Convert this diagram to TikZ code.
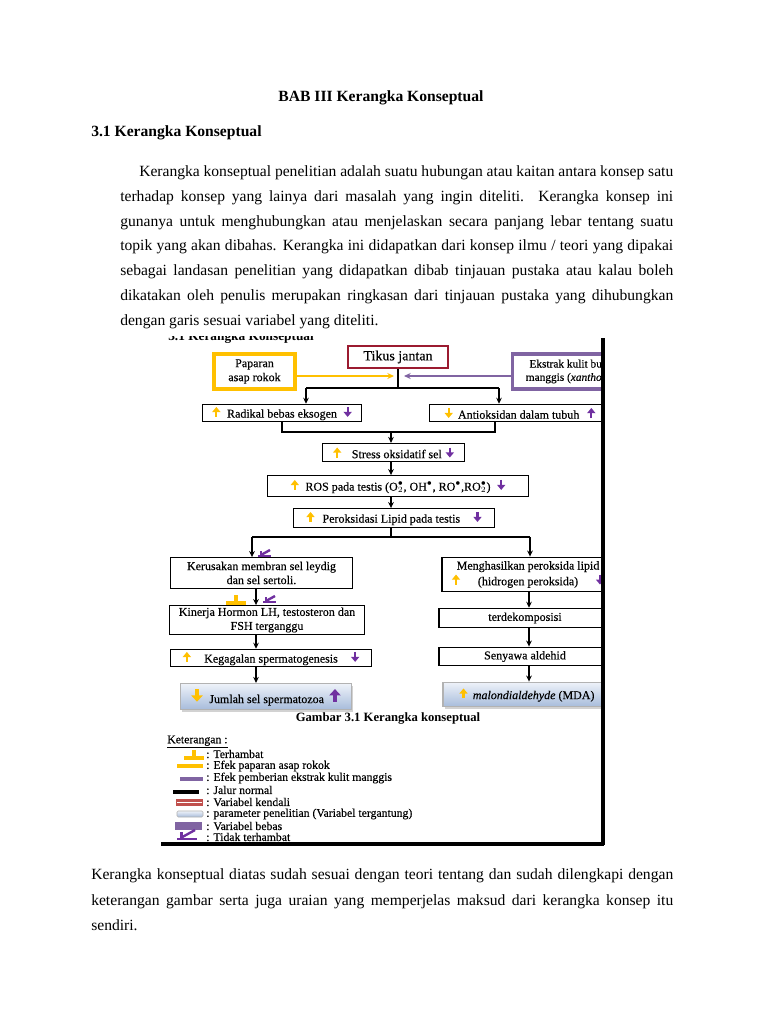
\documentclass[tikz,border=0pt]{standalone}
\usepackage{fontspec}
\setmainfont{Liberation Serif}
\newfontfamily\fontgbr[FakeBold=0.3]{Liberation Serif}
\usetikzlibrary{arrows.meta, positioning, shadows}

\definecolor{kuning}{HTML}{FFC000}
\definecolor{ungu}{HTML}{7030A0}
\definecolor{unguMuda}{HTML}{8064A2}
\definecolor{merah}{HTML}{9B1B30}
\definecolor{merahLeg}{HTML}{C0504D}
\definecolor{biruAtas}{HTML}{EEF2F9}
\definecolor{biruBawah}{HTML}{A7BCDB}

% small thick arrows inside the boxes
\newcommand{\panahNaik}[1]{\tikz[baseline=-0.5pt]\draw[#1,line width=1.7pt,-{Triangle[width=6pt,length=3.8pt]}] (0pt,0pt) -- (0pt,7.5pt);}
\newcommand{\panahTurun}[1]{\tikz[baseline=-0.5pt]\draw[#1,line width=1.7pt,-{Triangle[width=6pt,length=3.8pt]}] (0pt,7.5pt) -- (0pt,0pt);}
\newcommand{\panahNaikBesar}[1]{\tikz[baseline=-1pt]\draw[#1,line width=2.5pt,-{Triangle[width=8.5pt,length=4.8pt]}] (0pt,0pt) -- (0pt,9.5pt);}
\newcommand{\panahTurunBesar}[1]{\tikz[baseline=-1pt]\draw[#1,line width=2.5pt,-{Triangle[width=8.5pt,length=4.8pt]}] (0pt,9.5pt) -- (0pt,0pt);}

\tikzset{
  terhambat/.pic={
    \draw[kuning, line width=2.8pt] (-10,0) -- (10,0);
    \draw[kuning, line width=2.6pt] (0,0) -- (0,-8);
  },
  tidakhambat/.pic={
    \draw[ungu, line width=2pt] (0,0) -- (13,0);
    \draw[ungu, line width=1.8pt] (3,0) -- (3,-5);
    \draw[ungu, line width=1.8pt] (3,-1) -- (12,-6);
  }
}

\begin{document}
\begin{tikzpicture}[x=0.75pt, y=-0.75pt,
    kotak/.style={draw=black, line width=0.9pt, fill=white, align=center, inner sep=1pt, font=\fontgbr\fontsize{9}{10.5}\selectfont},
    kotakhasil/.style={kotak, draw=black!30, top color=biruAtas, bottom color=biruBawah, drop shadow={shadow xshift=1.2pt, shadow yshift=-1.5pt, opacity=0.35}},
    garis/.style={line width=0.9pt},
    panah/.style={garis, -{Stealth[length=4.5pt, width=4.2pt]}},
    baris/.style={inner sep=0pt, anchor=base west, font=\fontsize{11.7}{14}\selectfont},
    ket/.style={inner sep=0pt, anchor=west, font=\fontgbr\fontsize{8.8}{9}\selectfont}]

  \fill[white] (0,0) rectangle (768,1024);
  \useasboundingbox (0,0) rectangle (768,1024);

  % page text
  \node[anchor=base, inner sep=0pt, font=\bfseries\fontsize{11.7}{14}\selectfont] (judul) at (381,101) {BAB III Kerangka Konseptual};
  \node[baris, font=\bfseries\fontsize{11.7}{14}\selectfont] (subjudul) at (91,136) {3.1 Kerangka Konseptual};

  \node[baris] (p1) at (139,176) {\makebox[400.5pt][s]{Kerangka konseptual penelitian adalah suatu hubungan atau kaitan antara konsep satu}};
  \node[baris] (p2) at (120,201) {\makebox[414.75pt][s]{terhadap konsep yang lainya dari masalah yang ingin diteliti. Kerangka konsep ini}};
  \node[baris] (p3) at (120,226) {\makebox[414.75pt][s]{gunanya untuk menghubungkan atau menjelaskan secara panjang lebar tentang suatu}};
  \node[baris] (p4) at (120,250) {\makebox[414.75pt][s]{topik yang akan dibahas. Kerangka ini didapatkan dari konsep ilmu / teori yang dipakai}};
  \node[baris] (p5) at (120,275) {\makebox[414.75pt][s]{sebagai landasan penelitian yang didapatkan dibab tinjauan pustaka atau kalau boleh}};
  \node[baris] (p6) at (120,300) {\makebox[414.75pt][s]{dikatakan oleh penulis merupakan ringkasan dari tinjauan pustaka yang dihubungkan}};
  \node[baris] (p7) at (120,325) {dengan garis sesuai variabel yang diteliti.};

  \node[baris] (q1) at (91,879) {\makebox[436.5pt][s]{Kerangka konseptual diatas sudah sesuai dengan teori tentang dan sudah dilengkapi dengan}};
  \node[baris] (q2) at (91,905) {\makebox[436.5pt][s]{keterangan gambar serta juga uraian yang memperjelas maksud dari kerangka konsep itu}};
  \node[baris] (q3) at (91,930) {sendiri.};

  % the figure
  \begin{scope}
    \clip (160,336) rectangle (602,847);
    \node[anchor=base west, inner sep=0pt, font=\bfseries\fontsize{10}{12}\selectfont] (judulatas) at (168,340) {3.1 Kerangka Konseptual};

    \node[kotak, draw=merah, line width=2.2pt, minimum width=75pt, minimum height=16.5pt, font=\fontgbr\fontsize{10.5}{12}\selectfont] (tikus) at (398,357) {Tikus jantan};
    \node[kotak, draw=kuning, line width=2.6pt, minimum width=61pt, minimum height=26.5pt] (paparan) at (254.5,371.5) {Paparan\\asap rokok};
    \node[kotak, draw=unguMuda, line width=2.6pt, minimum width=88pt, minimum height=26.5pt, font=\fontgbr\fontsize{8.5}{10}\selectfont] (ekstrak) at (571,371.5) {Ekstrak kulit buah\\manggis (\textit{xanthone})};

    \coordinate (ujungK) at (394,376);
    \coordinate (ujungU) at (404,376);
    \draw[kuning, line width=1.4pt, -{Stealth[length=5pt, width=4.5pt]}] (paparan.east |- ujungK) -- (ujungK);
    \draw[unguMuda, line width=1.4pt, -{Stealth[length=5pt, width=4.5pt]}] (ekstrak.west |- ujungU) -- (ujungU);

    \node[kotak, minimum width=119pt, minimum height=13pt] (radikal) at (282,413) {\panahNaik{kuning}\hspace{5pt}Radikal bebas eksogen\hspace{5pt}\panahTurun{ungu}};
    \node[kotak, minimum width=136pt, minimum height=13pt] (antiok) at (520,413) {\panahTurun{kuning}\hspace{4pt}Antioksidan dalam tubuh\hspace{6pt}\panahNaik{ungu}};

    \coordinate (cab1) at (398,388);
    \coordinate (cab1k) at (306,388);
    \coordinate (cab1n) at (499,388);
    \draw[garis] (tikus) -- (cab1);
    \draw[garis] (cab1k) -- (cab1n);
    \draw[panah] (cab1k) -- (cab1k |- radikal.north);
    \draw[panah] (cab1n) -- (cab1n |- antiok.north);

    \node[kotak, minimum width=106pt, minimum height=13.5pt] (stress) at (393.5,452.5) {\panahNaik{kuning}\hspace{8pt}Stress oksidatif sel\hspace{3pt}\panahTurun{ungu}};
    \node[kotak, minimum width=195.5pt, minimum height=15.5pt] (ros) at (398,486) {\panahNaik{kuning}\hspace{5pt}ROS pada testis (O$_2^{\bullet}$, OH$^{\bullet}$, RO$^{\bullet}$,RO$_2^{\bullet}$)\hspace{5pt}\panahTurun{ungu}};
    \node[kotak, minimum width=151pt, minimum height=14pt] (perok) at (394,518) {\panahNaik{kuning}\hspace{6pt}Peroksidasi Lipid pada testis\hspace{10pt}\panahTurun{ungu}};

    \coordinate (gab1) at (391,432);
    \coordinate (gab1n) at (495,432);
    \draw[garis] (gab1n |- antiok.south) -- (gab1n) -- (radikal.south |- gab1n) -- (radikal.south);
    \draw[panah] (gab1) -- (gab1 |- stress.north);
    \draw[panah] (gab1 |- stress.south) -- (gab1 |- ros.north);
    \draw[panah] (gab1 |- ros.south) -- (gab1 |- perok.north);

    \node[kotak, minimum width=136.5pt, minimum height=23pt] (kerusakan) at (261.5,573) {Kerusakan membran sel leydig\\dan sel sertoli.};
    \node[kotak, minimum width=146pt, minimum height=21.5pt] (kinerja) at (267,620) {Kinerja Hormon LH, testosteron dan\\FSH terganggu};
    \node[kotak, minimum width=151pt, minimum height=13pt] (kegagalan) at (271,658) {\panahNaik{kuning}\hspace{10pt}Kegagalan spermatogenesis\hspace{10pt}\panahTurun{ungu}};
    \node[kotakhasil, minimum width=128pt, minimum height=19.5pt] (jumlah) at (266,696.5) {\panahTurunBesar{kuning}\hspace{5pt}Jumlah sel spermatozoa\hspace{4pt}\panahNaikBesar{ungu}};

    \node[kotak, minimum width=129pt, minimum height=26pt] (mengh) at (528,574.5) {Menghasilkan peroksida lipid\\\makebox[114pt]{\panahNaik{kuning}\hfill(hidrogen peroksida)\hfill\panahTurun{ungu}}};
    \node[kotak, minimum width=129pt, minimum height=14.5pt] (terdek) at (525,618) {terdekomposisi};
    \node[kotak, minimum width=129pt, minimum height=14pt] (senyawa) at (525,656.5) {Senyawa aldehid};
    \node[kotakhasil, minimum width=126pt, minimum height=18.5pt] (mda) at (527,694.5) {\panahNaik{kuning}\hspace{4pt}\textit{malondialdehyde} (MDA)};

    \coordinate (cab2) at (391,537);
    \coordinate (cab2k) at (252,537);
    \coordinate (cab2n) at (530,537);
    \draw[garis] (gab1 |- perok.south) -- (cab2);
    \draw[garis] (cab2k) -- (cab2n);
    \draw[panah] (cab2k) -- (cab2k |- kerusakan.north);
    \draw[panah] (cab2n) -- (cab2n |- mengh.north);

    \coordinate (jalurKiri) at (256,540);
    \draw[panah] (jalurKiri |- kerusakan.south) -- (jalurKiri |- kinerja.north);
    \draw[panah] (jalurKiri |- kinerja.south) -- (jalurKiri |- kegagalan.north);
    \draw[panah] (jalurKiri |- kegagalan.south) -- (jalurKiri |- jumlah.north);

    \coordinate (jalurKanan) at (529,540);
    \draw[panah] (jalurKanan |- mengh.south) -- (jalurKanan |- terdek.north);
    \draw[panah] (jalurKanan |- terdek.south) -- (jalurKanan |- senyawa.north);
    \draw[panah] (jalurKanan |- senyawa.south) -- (jalurKanan |- mda.north);

    \pic at (258,556) {tidakhambat};
    \pic at (236,603) {terhambat};
    \pic at (263,602) {tidakhambat};

    \node[inner sep=0pt, font=\bfseries\fontsize{9.5}{11}\selectfont] (judulgbr) at (388,718) {Gambar 3.1 Kerangka konseptual};

    % legend
    \node[ket] (ketjudul) at (167,742) {\underline{Keterangan :}};
    \pic at (194,758) {terhambat};
    \draw[kuning, line width=3pt] (177,766) -- (203,766);
    \draw[unguMuda, line width=3pt] (180,779) -- (203,779);
    \draw[black, line width=2.6pt] (173,792) -- (199,792);
    \fill[merahLeg] (176,799) rectangle (203,806);
    \draw[white, line width=0.8pt] (177,802.5) -- (202,802.5);
    \shade[top color=biruAtas, bottom color=biruBawah, draw=black!30, rounded corners=1pt] (177,811) rectangle (203,817);
    \fill[unguMuda] (175,822) rectangle (202,830);
    \pic[scale=1.5] at (177,839) {tidakhambat};
    \node[ket] (k1) at (206,754) {: Terhambat};
    \node[ket] (k2) at (206,766) {: Efek paparan asap rokok};
    \node[ket] (k3) at (206,778) {: Efek pemberian ekstrak kulit manggis};
    \node[ket] (k4) at (206,790) {: Jalur normal};
    \node[ket] (k5) at (206,802) {: Variabel kendali};
    \node[ket] (k6) at (206,814) {: parameter penelitian (Variabel tergantung)};
    \node[ket] (k7) at (206,826) {: Variabel bebas};
    \node[ket] (k8) at (206,837) {: Tidak terhambat};
  \end{scope}

  % figure edges
  \draw[line width=2.6pt] (603,338) -- (603,845);
  \draw[line width=2.6pt] (161,844) -- (604,844);
\end{tikzpicture}
\end{document}
